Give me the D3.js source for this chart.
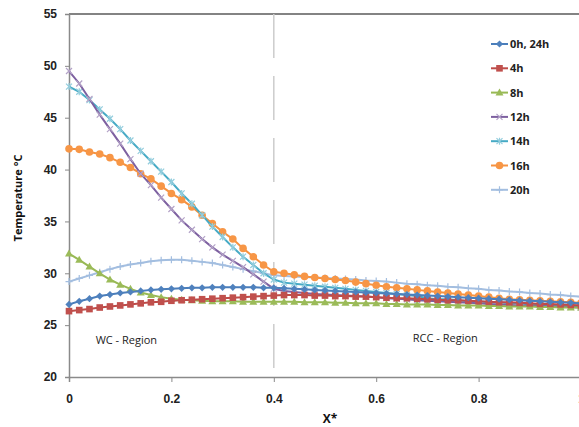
<!DOCTYPE html>
<html>
<head>
<meta charset="utf-8">
<script src="https://cdn.jsdelivr.net/npm/d3@7"></script>
<style>
  body { margin: 0; background: #fff; }
  svg { display: block; font-family: "Open Sans", "Liberation Sans", sans-serif; }
</style>
</head>
<body>
<div id="chart"></div>
<script>
// x* positions
const xs = [0, 0.02, 0.04, 0.06, 0.08, 0.10, 0.12, 0.14, 0.16, 0.18, 0.20,
  0.22, 0.24, 0.26, 0.28, 0.30, 0.32, 0.34, 0.36, 0.38, 0.40,
  0.42, 0.44, 0.46, 0.48, 0.50, 0.52, 0.54, 0.56, 0.58, 0.60,
  0.62, 0.64, 0.66, 0.68, 0.70, 0.72, 0.74, 0.76, 0.78, 0.80,
  0.82, 0.84, 0.86, 0.88, 0.90, 0.92, 0.94, 0.96, 0.98, 1.00];

const t0h = [27.0, 27.3, 27.55, 27.8, 27.95, 28.1, 28.2, 28.3, 28.4, 28.45, 28.5,
  28.55, 28.6, 28.6, 28.65, 28.65, 28.65, 28.65, 28.65, 28.6, 28.6,
  28.55, 28.5, 28.45, 28.4, 28.35, 28.3, 28.25, 28.2, 28.15, 28.1,
  28.05, 28.0, 27.95, 27.9, 27.85, 27.8, 27.75, 27.7, 27.65, 27.6,
  27.55, 27.5, 27.45, 27.4, 27.35, 27.3, 27.25, 27.2, 27.15, 27.1];

const t4h = [26.35, 26.45, 26.55, 26.7, 26.8, 26.9, 27.0, 27.1, 27.2, 27.25, 27.35,
  27.4, 27.45, 27.5, 27.55, 27.6, 27.65, 27.7, 27.75, 27.8, 27.85,
  27.9, 27.9, 27.9, 27.85, 27.85, 27.8, 27.8, 27.75, 27.75, 27.7,
  27.65, 27.6, 27.6, 27.55, 27.5, 27.45, 27.4, 27.4, 27.35, 27.3,
  27.25, 27.2, 27.2, 27.15, 27.1, 27.05, 27.05, 27.0, 26.95, 26.9];

const t8h = [31.9, 31.3, 30.65, 30.0, 29.4, 28.9, 28.5, 28.15, 27.9, 27.7, 27.55,
  27.45, 27.4, 27.35, 27.3, 27.3, 27.3, 27.25, 27.25, 27.25, 27.25,
  27.25, 27.25, 27.2, 27.2, 27.2, 27.15, 27.15, 27.1, 27.1, 27.1,
  27.05, 27.05, 27.0, 27.0, 27.0, 26.95, 26.95, 26.9, 26.9, 26.9,
  26.85, 26.85, 26.8, 26.8, 26.8, 26.75, 26.75, 26.7, 26.7, 26.7];

const t12h = [49.5, 48.3, 46.8, 45.3, 43.9, 42.5, 41.0, 39.6, 38.5, 37.3, 36.2,
  35.1, 34.2, 33.3, 32.5, 31.8, 31.2, 30.6, 29.9, 29.2, 28.5,
  28.3, 28.2, 28.1, 28.0, 27.95, 27.9, 27.85, 27.8, 27.75, 27.7,
  27.6, 27.55, 27.5, 27.4, 27.35, 27.3, 27.25, 27.2, 27.15, 27.1,
  27.05, 27.0, 26.95, 26.9, 26.9, 26.85, 26.8, 26.8, 26.75, 26.7];

const t14h = [48.0, 47.5, 46.7, 45.8, 44.9, 43.9, 42.8, 41.8, 40.8, 39.8, 38.8,
  37.7, 36.7, 35.6, 34.5, 33.5, 32.5, 31.6, 30.8, 30.0, 29.4,
  29.1, 29.0, 28.9, 28.8, 28.7, 28.6, 28.5, 28.4, 28.3, 28.2,
  28.1, 28.0, 27.9, 27.8, 27.6, 27.5, 27.5, 27.4, 27.3, 27.3,
  27.2, 27.2, 27.1, 27.1, 27.0, 27.0, 26.9, 26.9, 26.8, 26.8];

const t16h = [42.0, 41.95, 41.7, 41.5, 41.15, 40.7, 40.2, 39.6, 39.1, 38.4, 37.7,
  37.1, 36.4, 35.6, 34.8, 34.0, 33.3, 32.4, 31.6, 30.8, 30.15,
  30.0, 29.85, 29.7, 29.6, 29.5, 29.4, 29.3, 29.15, 29.0, 28.85,
  28.7, 28.6, 28.5, 28.4, 28.3, 28.2, 28.1, 28.0, 27.9, 27.8,
  27.7, 27.6, 27.5, 27.45, 27.4, 27.35, 27.3, 27.25, 27.2, 27.15];

const t20h = [29.2, 29.5, 29.8, 30.1, 30.4, 30.65, 30.85, 31.0, 31.15, 31.25, 31.3,
  31.3, 31.2, 31.1, 31.0, 30.8, 30.6, 30.4, 30.2, 30.0, 29.8,
  29.75, 29.7, 29.65, 29.6, 29.55, 29.5, 29.45, 29.4, 29.3, 29.25,
  29.2, 29.1, 29.0, 28.95, 28.85, 28.8, 28.7, 28.65, 28.55, 28.5,
  28.4, 28.35, 28.25, 28.2, 28.1, 28.05, 27.95, 27.9, 27.8, 27.75];

const seriesNames = ["0h, 24h", "4h", "8h", "12h", "14h", "16h", "20h"];
const seriesValues = [t0h, t4h, t8h, t12h, t14h, t16h, t20h];
const xTicks = [0, 0.2, 0.4, 0.6, 0.8, 1];
const yTicks = [20, 25, 30, 35, 40, 45, 50, 55];

// line colour, marker colour, marker type
const styles = [
  { line: "#4A7EBB", mark: "#4F81BD", type: "diamond" },
  { line: "#BE4B48", mark: "#C0504D", type: "square" },
  { line: "#98B954", mark: "#9BBB59", type: "triangle" },
  { line: "#7D60A0", mark: "#B3A2C7", type: "x" },
  { line: "#46AAC5", mark: "#93CDDD", type: "star" },
  { line: "#F69240", mark: "#F79646", type: "circle" },
  { line: "#A3BEE0", mark: "#A3BEE0", type: "plus" }
];

const width = 579, height = 427;
const x = d3.scaleLinear().domain([0, 1]).range([69, 581]);
const y = d3.scaleLinear().domain([20, 55]).range([377, 14]);

const svg = d3.select("#chart").append("svg")
  .attr("width", width)
  .attr("height", height);

// frame
svg.append("line")
  .attr("x1", x(0)).attr("x2", x(1))
  .attr("y1", y(55)).attr("y2", y(55))
  .attr("stroke", "#5a5a5a").attr("stroke-width", 1.3);

// region divider
svg.append("line")
  .attr("x1", x(0.4)).attr("x2", x(0.4))
  .attr("y1", y(55)).attr("y2", y(20))
  .attr("stroke", "#cccccc").attr("stroke-width", 1.5)
  .attr("stroke-dasharray", "44,18");

// axes
const xAxis = svg.append("g")
  .attr("transform", `translate(0,${y(20)})`)
  .call(d3.axisBottom(x).tickValues(xTicks).tickSize(5).tickPadding(12)
    .tickFormat(d => d === 0 || d === 1 ? d3.format("d")(d) : d3.format(".1f")(d)));
const yAxis = svg.append("g")
  .attr("transform", `translate(${x(0)},0)`)
  .call(d3.axisLeft(y).tickValues(yTicks).tickSize(4).tickPadding(8));

[xAxis, yAxis].forEach(g => {
  g.select(".domain").attr("stroke", "#8a8a8a").attr("stroke-width", 1.5);
  g.selectAll(".tick line").attr("stroke", "#8a8a8a");
  g.selectAll(".tick text")
    .attr("fill", "#222")
    .style("font-size", "12px")
    .style("font-weight", "bold");
});

// region labels
svg.append("text").attr("x", x(0.112)).attr("y", y(23.2))
  .attr("text-anchor", "middle").attr("font-size", 11).attr("fill", "#222")
  .text("WC - Region");
svg.append("text").attr("x", x(0.735)).attr("y", y(23.35))
  .attr("text-anchor", "middle").attr("font-size", 11).attr("fill", "#222")
  .text("RCC - Region");

// axis titles
svg.append("text").attr("x", 330).attr("y", 423)
  .attr("text-anchor", "middle").attr("font-size", 12).attr("font-weight", "bold")
  .attr("fill", "#111").text("X*");
svg.append("text")
  .attr("transform", "translate(22,198) rotate(-90)")
  .attr("text-anchor", "middle").attr("font-size", 11).attr("font-weight", "bold")
  .attr("fill", "#111").text("Temperature  °C");

function drawMarker(g, type, color, cx, cy) {
  if (type === "diamond") {
    g.append("path").attr("d", `M${cx},${cy - 3.6}L${cx + 3.6},${cy}L${cx},${cy + 3.6}L${cx - 3.6},${cy}Z`)
      .attr("fill", color);
  } else if (type === "square") {
    g.append("rect").attr("x", cx - 3.3).attr("y", cy - 3.3).attr("width", 6.6).attr("height", 6.6)
      .attr("fill", color);
  } else if (type === "triangle") {
    g.append("path").attr("d", `M${cx},${cy - 4}L${cx + 4},${cy + 3}L${cx - 4},${cy + 3}Z`)
      .attr("fill", color);
  } else if (type === "circle") {
    g.append("circle").attr("cx", cx).attr("cy", cy).attr("r", 3.8).attr("fill", color);
  } else if (type === "x") {
    g.append("path").attr("d", `M${cx - 3},${cy - 3}L${cx + 3},${cy + 3}M${cx - 3},${cy + 3}L${cx + 3},${cy - 3}`)
      .attr("stroke", color).attr("stroke-width", 1.2);
  } else if (type === "star") {
    g.append("path").attr("d", `M${cx - 3},${cy - 3}L${cx + 3},${cy + 3}M${cx - 3},${cy + 3}L${cx + 3},${cy - 3}M${cx},${cy - 3.5}L${cx},${cy + 3.5}`)
      .attr("stroke", color).attr("stroke-width", 1.2);
  } else if (type === "plus") {
    g.append("path").attr("d", `M${cx - 3.5},${cy}L${cx + 3.5},${cy}M${cx},${cy - 3.5}L${cx},${cy + 3.5}`)
      .attr("stroke", color).attr("stroke-width", 1.2);
  }
}

const line = d3.line()
  .x((d, i) => x(xs[i]))
  .y(d => y(d));

// series, drawn so 0h ends up on top like the original
const plot = svg.append("g");
for (let s = seriesValues.length - 1; s >= 0; s--) {
  const st = styles[s];
  const g = plot.append("g");
  g.append("path")
    .datum(seriesValues[s])
    .attr("fill", "none")
    .attr("stroke", st.line)
    .attr("stroke-width", 2)
    .attr("d", line);
  seriesValues[s].forEach((v, i) => drawMarker(g, st.type, st.mark, x(xs[i]), y(v)));
}

// legend
const legend = svg.append("g");
seriesNames.forEach((name, i) => {
  const ly = 44 + i * 24.3;
  legend.append("line")
    .attr("x1", 491).attr("x2", 508).attr("y1", ly).attr("y2", ly)
    .attr("stroke", styles[i].line).attr("stroke-width", 2);
  drawMarker(legend, styles[i].type, styles[i].mark, 499.5, ly);
  legend.append("text")
    .attr("x", 510).attr("y", ly + 4)
    .attr("font-size", 11).attr("font-weight", "bold").attr("fill", "#222")
    .text(name);
});
</script>
</body>
</html>
